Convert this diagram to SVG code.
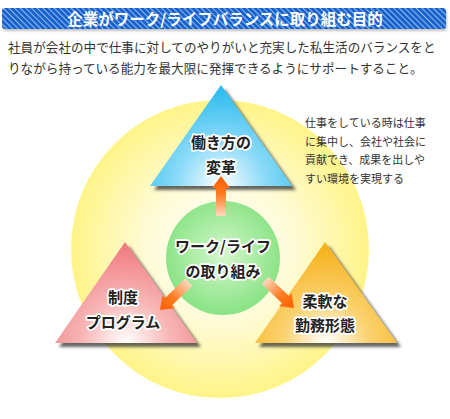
<svg xmlns="http://www.w3.org/2000/svg" width="450" height="419" viewBox="0 0 450 419">
<defs>
<pattern id="stripes" width="4" height="4" patternUnits="userSpaceOnUse" patternTransform="rotate(-45)">
<rect width="4" height="4" fill="#1560cc"/>
<rect x="0" y="0" width="1.1" height="4" fill="#8fb8ee"/>
</pattern>
<radialGradient id="gYellow" cx="220" cy="249" r="149" gradientUnits="userSpaceOnUse">
<stop offset="0" stop-color="#ffffff"/>
<stop offset="0.5" stop-color="#fffbd6"/>
<stop offset="1" stop-color="#fff488"/>
</radialGradient>
<radialGradient id="gGreen" cx="223" cy="255" r="57" gradientUnits="userSpaceOnUse">
<stop offset="0" stop-color="#d4f7cc"/>
<stop offset="1" stop-color="#8ce487"/>
</radialGradient>
<radialGradient id="gBlue" cx="221" cy="186" r="95" gradientUnits="userSpaceOnUse">
<stop offset="0" stop-color="#ffffff"/>
<stop offset="0.45" stop-color="#8fdcf8"/>
<stop offset="1" stop-color="#30bdf0"/>
</radialGradient>
<radialGradient id="gPink" cx="126" cy="343" r="95" gradientUnits="userSpaceOnUse">
<stop offset="0" stop-color="#ffffff"/>
<stop offset="0.45" stop-color="#f8b8b8"/>
<stop offset="1" stop-color="#f07e82"/>
</radialGradient>
<radialGradient id="gOrange" cx="326" cy="343" r="95" gradientUnits="userSpaceOnUse">
<stop offset="0" stop-color="#ffffff"/>
<stop offset="0.45" stop-color="#fbd270"/>
<stop offset="1" stop-color="#f6b21c"/>
</radialGradient>
<linearGradient id="gArrow" x1="0" y1="0" x2="0" y2="40" gradientUnits="userSpaceOnUse">
<stop offset="0" stop-color="#ff5e00"/>
<stop offset="0.45" stop-color="#ff7a20"/>
<stop offset="1" stop-color="#ffd8c0"/>
</linearGradient>
<filter id="shadow" x="-20%" y="-20%" width="140%" height="140%">
<feDropShadow dx="4" dy="4" stdDeviation="1.5" flood-color="#333" flood-opacity="0.75"/>
</filter>
<filter id="barShadow" x="-5%" y="-30%" width="110%" height="160%">
<feDropShadow dx="1" dy="2" stdDeviation="1" flood-color="#999" flood-opacity="0.6"/>
</filter>
<path id="arrow" d="M0,0 L9,12 L5,12 L5,40 L-5,40 L-5,12 L-9,12 Z" fill="url(#gArrow)"/>
</defs>
<style>
.title{font-family:"Noto Sans CJK JP","Noto Sans",sans-serif;font-weight:700;font-size:15.5px;fill:#fff;}
.body{font-family:"Noto Sans CJK JP","Noto Sans",sans-serif;font-size:12.6px;fill:#333;}
.note{font-family:"Noto Sans CJK JP","Noto Sans",sans-serif;font-size:11px;fill:#333;}
.lbl{font-family:"Noto Sans CJK JP","Noto Sans",sans-serif;font-weight:700;font-size:15px;fill:#222;stroke:#fff;stroke-width:3.5px;stroke-linejoin:round;paint-order:stroke;text-anchor:middle;}
</style>
<rect width="450" height="419" fill="#fff"/>

<g id="header">
<rect x="2" y="8" width="444" height="21" rx="3" fill="url(#stripes)" filter="url(#barShadow)"/>
<text class="title" x="225" y="24.5" text-anchor="middle">企業がワーク/ライフバランスに取り組む目的</text>
</g>

<g id="intro">
<text class="body" x="8" y="52">社員が会社の中で仕事に対してのやりがいと充実した私生活のバランスをと</text>
<text class="body" x="8" y="73">りながら持っている能力を最大限に発揮できるようにサポートすること。</text>
</g>

<g id="background-circle">
<circle cx="220" cy="249" r="149" fill="url(#gYellow)"/>
</g>

<g id="note">
<text class="note" x="305" y="127">仕事をしている時は仕事</text>
<text class="note" x="305" y="146">に集中し、会社や社会に</text>
<text class="note" x="305" y="164">貢献でき、成果を出しや</text>
<text class="note" x="305" y="183">すい環境を実現する</text>
</g>

<g id="center">
<circle cx="223" cy="258" r="57" fill="url(#gGreen)"/>
<text class="lbl" x="223" y="252">ワーク/ライフ</text>
<text class="lbl" x="223" y="277">の取り組み</text>
</g>

<g id="top">
<polygon points="221,85 150,186 292,186" fill="url(#gBlue)" filter="url(#shadow)"/>
<text class="lbl" x="221" y="148" font-size="16">働き方の</text>
<text class="lbl" x="221" y="173" font-size="16">変革</text>
</g>

<g id="left">
<polygon points="125,242 55,343 197,343" fill="url(#gPink)" filter="url(#shadow)"/>
<text class="lbl" x="123" y="303">制度</text>
<text class="lbl" x="123" y="328">プログラム</text>
</g>

<g id="right">
<polygon points="325,242 255,343 397,343" fill="url(#gOrange)" filter="url(#shadow)"/>
<text class="lbl" x="325" y="307">柔軟な</text>
<text class="lbl" x="325" y="331">勤務形態</text>
</g>

<g id="connectors">
<use href="#arrow" transform="translate(221,176)"/>
<use href="#arrow" transform="translate(160,310) rotate(-134)"/>
<use href="#arrow" transform="translate(294,308) rotate(134)"/>
</g>
</svg>
